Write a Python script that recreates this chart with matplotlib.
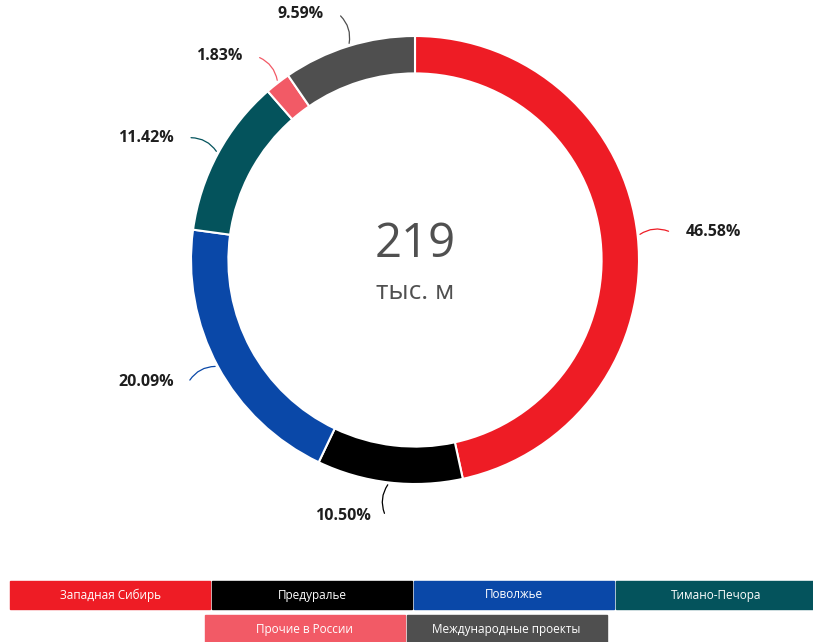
import numpy as np
import matplotlib
matplotlib.use('Agg')
import matplotlib.pyplot as plt
from matplotlib.patches import Rectangle

# data
regions = ['Западная Сибирь', 'Предуралье', 'Поволжье', 'Тимано-Печора',
           'Прочие в России', 'Международные проекты']
shares = [46.58, 10.50, 20.09, 11.42, 1.83, 9.59]
colors = ['#EE1C25', '#000000', '#0A48A8', '#04535C', '#F25A66', '#4F4F4F']
total_label = '219'
unit_label = 'тыс. м'

plt.rcParams['font.family'] = ['Open Sans', 'DejaVu Sans']

W, H = 813, 642
fig = plt.figure(figsize=(W / 100, H / 100), dpi=100)

# donut axes: centre (415, 260) px, outer radius 224 px
cx, cy, R = 415, 260, 224
half = 1.2 * R
ax = fig.add_axes([(cx - half) / W, (H - cy - half) / H, 2 * half / W, 2 * half / H])

wedges, _ = ax.pie(shares, colors=colors, startangle=90, counterclock=False, radius=1.0,
                   wedgeprops=dict(width=0.167, edgecolor='white', linewidth=1.5))
# pie resets the limits, so set them afterwards
ax.set_xlim(-1.2, 1.2)
ax.set_ylim(-1.2, 1.2)
ax.set_aspect('equal')
ax.axis('off')

# leader lines + percent labels
for w, s, c in zip(wedges, shares, colors):
    ang = np.deg2rad((w.theta1 + w.theta2) / 2)
    x0, y0 = np.cos(ang), np.sin(ang)
    x1, y1 = 1.15 * x0, 1.15 * y0
    ha = 'left' if x0 > 0 else 'right'
    dx = 0.065 if x0 > 0 else -0.065
    rad = 0.3 if x0 > 0 else -0.3
    ax.annotate('', xy=(x0, y0), xytext=(x1, y1),
                arrowprops=dict(arrowstyle='-', color=c, lw=0.9,
                                connectionstyle='arc3,rad=%s' % rad))
    ax.text(x1 + dx, y1, '%.2f%%' % s, ha=ha, va='center', fontsize=11.5,
            fontweight='bold', color='#1e1e1e', clip_on=False)

ax.text(0, 0.07, total_label, ha='center', va='center', fontsize=34, color='#505050')
ax.text(0, -0.145, unit_label, ha='center', va='center', fontsize=19, color='#505050')

# legend as colored boxes
box_w, box_h, gap = 200, 28, 2
rows = [list(range(4)), [4, 5]]
row_top = [581, 615]
for r, idx in enumerate(rows):
    total_w = len(idx) * (box_w + gap)
    x_start = 10 if r == 0 else (W - total_w) / 2
    for k, i in enumerate(idx):
        x = x_start + k * (box_w + gap)
        y = H - row_top[r] - box_h
        fig.patches.append(Rectangle((x / W, y / H), box_w / W, box_h / H,
                                     transform=fig.transFigure, color=colors[i]))
        fig.text((x + box_w / 2) / W, (y + box_h / 2) / H, regions[i], ha='center',
                 va='center', color='white', fontsize=8.5)

fig.savefig('out.png', dpi=100, facecolor='white')
